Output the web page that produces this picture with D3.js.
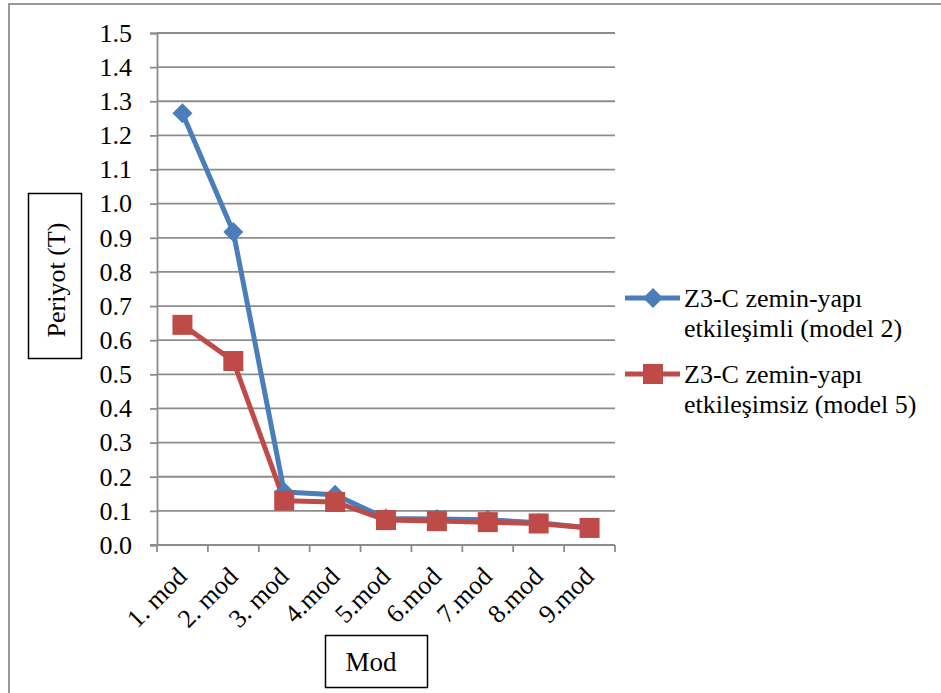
<!DOCTYPE html>
<html>
<head>
<meta charset="utf-8">
<script src="https://cdn.jsdelivr.net/npm/d3@7"></script>
<style>
  body { margin: 0; background: #fff; }
  svg text { font-family: "Liberation Serif", "Times New Roman", serif; fill: #000; }
</style>
</head>
<body>
<svg width="941" height="693"></svg>
<script>
var categories = ["1. mod", "2. mod", "3. mod", "4.mod", "5.mod", "6.mod", "7.mod", "8.mod", "9.mod"];
var seriesNames = ["Z3-C zemin-yapı etkileşimli (model 2)", "Z3-C zemin-yapı etkileşimsiz (model 5)"];
var model2 = [1.265, 0.917, 0.155, 0.147, 0.078, 0.076, 0.074, 0.065, 0.05];
var model5 = [0.645, 0.539, 0.13, 0.126, 0.073, 0.07, 0.067, 0.063, 0.05];
var yTicks = [0, 0.1, 0.2, 0.3, 0.4, 0.5, 0.6, 0.7, 0.8, 0.9, 1.0, 1.1, 1.2, 1.3, 1.4, 1.5];

var svg = d3.select("svg");
var colors = ["#4a7ebb", "#be4b48"];
var gridColor = "#8c8c8c";

// outer border (right/bottom run off the page)
svg.append("rect")
    .attr("x", 9).attr("y", 4)
    .attr("width", 960).attr("height", 720)
    .attr("fill", "none").attr("stroke", "#999").attr("stroke-width", 2);

var plotL = 157, plotR = 615, plotT = 33, plotB = 545;

var x = d3.scaleBand().domain(categories).range([plotL, plotR]);
var y = d3.scaleLinear().domain([0, 1.5]).range([plotB, plotT]);

// gridlines
svg.append("g")
    .selectAll("line")
    .data(yTicks)
    .enter().append("line")
    .attr("x1", plotL).attr("x2", plotR)
    .attr("y1", function(d) { return y(d); })
    .attr("y2", function(d) { return y(d); })
    .attr("stroke", gridColor).attr("stroke-width", 1.8);

// y axis
var yAxis = svg.append("g")
    .attr("transform", "translate(" + plotL + ",0)")
    .call(d3.axisLeft(y).tickValues(yTicks).tickFormat(d3.format(".1f")).tickSize(7).tickPadding(18));
yAxis.select(".domain").attr("stroke", gridColor).attr("stroke-width", 1.8);
yAxis.selectAll(".tick line").attr("stroke", gridColor).attr("stroke-width", 1.8);
yAxis.selectAll("text")
    .style("font-size", "26px")
    .style("font-family", "Liberation Serif")
    .attr("fill", "#000");

// x axis
var xTickPos = categories.map(function(c) { return x(c); }).concat([plotR]);
var xAxis = svg.append("g").attr("transform", "translate(0," + plotB + ")");
xAxis.append("line").attr("x1", plotL - 7).attr("x2", plotR)
    .attr("stroke", gridColor).attr("stroke-width", 1.8);
xAxis.selectAll(".xt")
    .data(xTickPos)
    .enter().append("line")
    .attr("x1", function(d) { return d; }).attr("x2", function(d) { return d; })
    .attr("y1", 0).attr("y2", 7)
    .attr("stroke", gridColor).attr("stroke-width", 1.8);
xAxis.selectAll(".xl")
    .data(categories)
    .enter().append("text")
    .attr("transform", function(d) {
        return "translate(" + (x(d) + x.bandwidth() / 2 + 6) + ",33) rotate(-45)";
    })
    .attr("text-anchor", "end")
    .style("font-size", "26px")
    .text(function(d) { return d; });

// lines
var line = d3.line()
    .x(function(d, i) { return x(categories[i]) + x.bandwidth() / 2; })
    .y(function(d) { return y(d); });

var allSeries = [model2, model5];
allSeries.forEach(function(s, k) {
    svg.append("path")
        .datum(s)
        .attr("d", line)
        .attr("fill", "none")
        .attr("stroke", colors[k])
        .attr("stroke-width", 5)
        .attr("stroke-linejoin", "round");
});

function diamond(g, cx, cy) {
    g.append("path")
        .attr("d", "M" + cx + "," + (cy - 10) + "L" + (cx + 10) + "," + cy + "L" + cx + "," + (cy + 10) + "L" + (cx - 10) + "," + cy + "Z")
        .attr("fill", colors[0]);
}
function square(g, cx, cy) {
    g.append("rect")
        .attr("x", cx - 10).attr("y", cy - 10)
        .attr("width", 20).attr("height", 20)
        .attr("fill", colors[1]);
}

var mk = svg.append("g");
model2.forEach(function(v, i) { diamond(mk, x(categories[i]) + x.bandwidth() / 2, y(v)); });
model5.forEach(function(v, i) { square(mk, x(categories[i]) + x.bandwidth() / 2, y(v)); });

// legend
var legendY = [298, 374];
var legendLines = [["Z3-C zemin-yapı", "etkileşimli (model 2)"], ["Z3-C zemin-yapı", "etkileşimsiz (model 5)"]];
legendY.forEach(function(ly, k) {
    svg.append("line")
        .attr("x1", 625).attr("x2", 680).attr("y1", ly).attr("y2", ly)
        .attr("stroke", colors[k]).attr("stroke-width", 5);
    if (k === 0) diamond(svg, 653, ly); else square(svg, 653, ly);
    var t = svg.append("text").attr("x", 684).attr("y", ly + 9).style("font-size", "26px");
    t.append("tspan").attr("x", 684).text(legendLines[k][0]);
    t.append("tspan").attr("x", 684).attr("dy", 30).text(legendLines[k][1]);
});

// y title box
svg.append("rect").attr("x", 28.5).attr("y", 193.5).attr("width", 53).attr("height", 165)
    .attr("fill", "#fff").attr("stroke", "#000").attr("stroke-width", 1.5);
svg.append("text")
    .attr("transform", "translate(65,280) rotate(-90)")
    .attr("text-anchor", "middle")
    .style("font-size", "26px")
    .text("Periyot (T)");

// x title box
svg.append("rect").attr("x", 325.5).attr("y", 635.5).attr("width", 102).attr("height", 52)
    .attr("fill", "#fff").attr("stroke", "#000").attr("stroke-width", 1.5);
svg.append("text")
    .attr("x", 371).attr("y", 671)
    .attr("text-anchor", "middle")
    .style("font-size", "27px")
    .text("Mod");
</script>
</body>
</html>
